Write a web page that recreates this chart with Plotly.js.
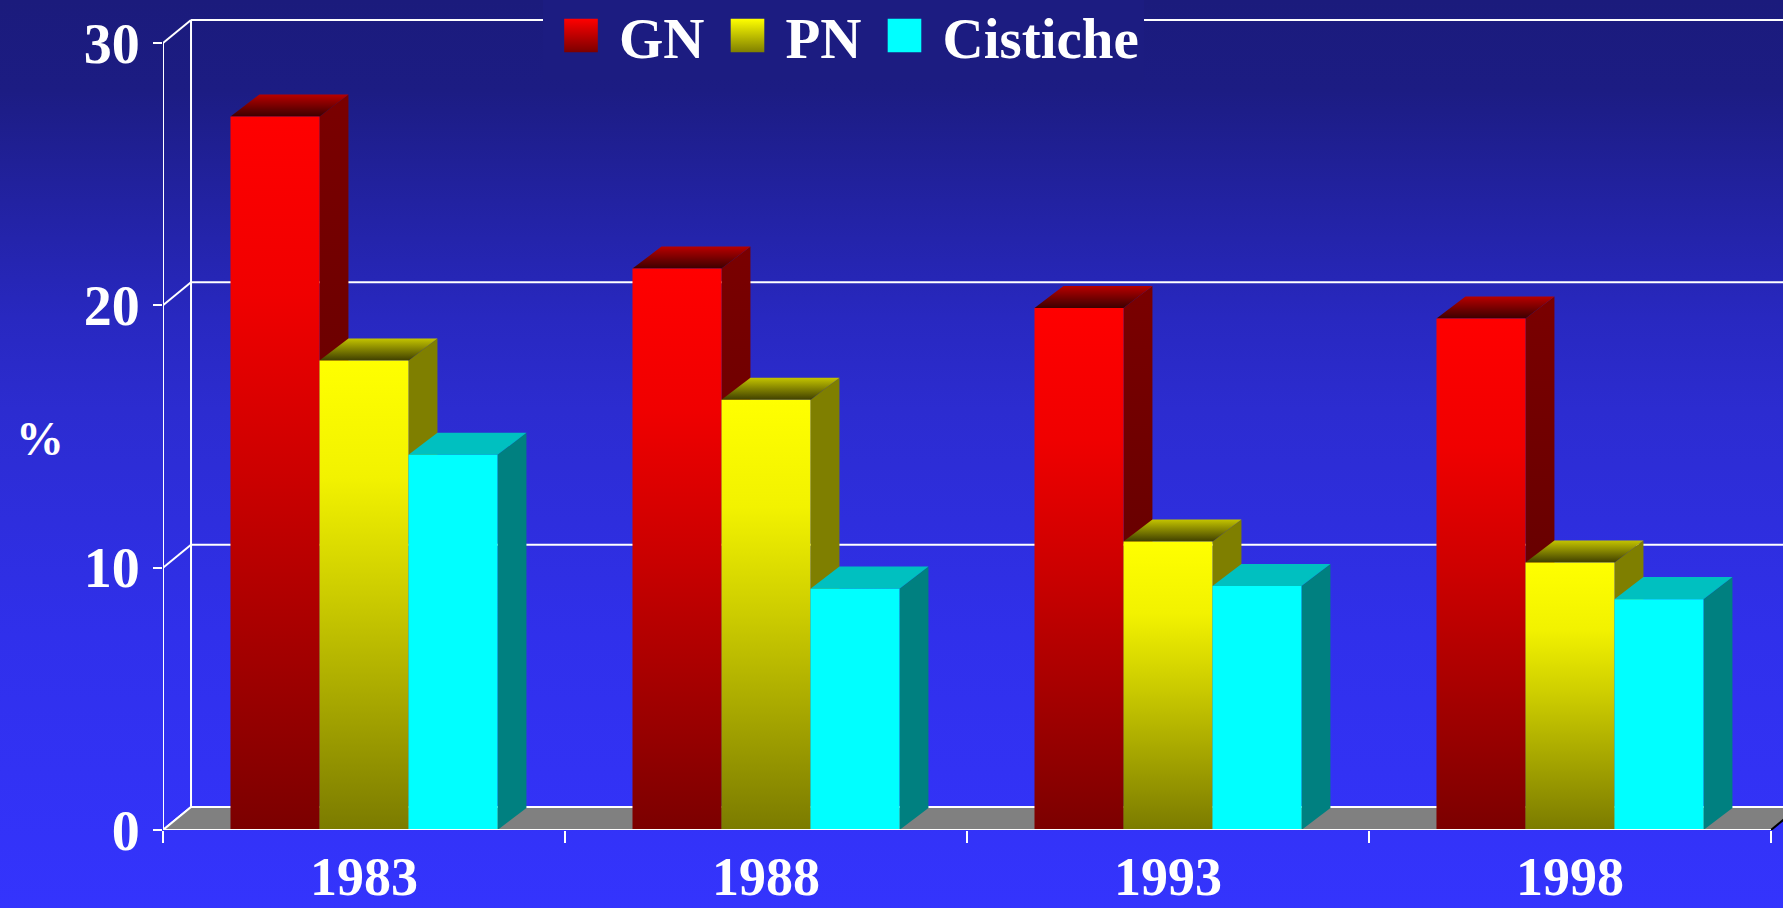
<!DOCTYPE html>
<html><head><meta charset="utf-8">
<script src="https://cdn.plot.ly/plotly-3.0.1.min.js"></script>
<style>
html,body{margin:0;padding:0;width:1783px;height:908px;overflow:hidden;
background:linear-gradient(to bottom,#1b1b7c 0%,#1c1c83 10%,#21219c 20%,#2828c0 35%,#2c2cd0 45%,#3030eb 70%,#3434fd 100%);}
#chart{width:1783px;height:908px;}
</style></head><body><div id="chart"></div>
<script>
// ---- data ----
const years = ['1983', '1988', '1993', '1998'];
const seriesNames = ['GN', 'PN', 'Cistiche'];
const gn = [27.2, 21.4, 19.9, 19.5];
const pn = [17.9, 16.4, 11.0, 10.2];
const cistiche = [14.3, 9.2, 9.3, 8.8];
const yTickVals = [0, 10, 20, 30];
const yTitle = '%';

// ---- style ----
const seriesValues = [gn, pn, cistiche];
const styles = [
  { front: [[0,'#7b0000'],[0.5,'#cc0000'],[0.75,'#f00000'],[1,'#ff0000']],
    side: [[0,'#560000'],[1,'#7a0000']],
    top: [[0,'#3c0000'],[1,'#b80000']],
    legTop: '#ff0000', legBottom: '#7b0000' },
  { front: [[0,'#7b7b00'],[0.5,'#cccc00'],[0.75,'#f2f200'],[1,'#ffff00']],
    side: '#7f7f00',
    top: [[0,'#404000'],[1,'#c4c400']],
    legTop: '#ffff00', legBottom: '#7f7f00' },
  { front: '#00ffff', side: '#008080', top: '#00c0c0',
    legTop: '#00ffff', legBottom: '#00ffff' }
];
const BAR_W = 0.2214, BAR_DX = 0.072, BAR_DY = 0.84;
const WALL_DX = 0.0697, WALL_DY = 0.877;
const X_MIN = -0.5, X_MAX = years.length - 0.5, X_RANGE_MAX = X_MAX + 0.0299;
const Y_MAX = 31.64;
const yTop = yTickVals[yTickVals.length - 1];
const FONT = {family: 'Liberation Serif, Times New Roman, serif', color: '#ffffff', weight: 'bold'};

function face(xs, ys, fill) {
  const t = {type: 'scatter', mode: 'lines', x: xs.concat([xs[0]]), y: ys.concat([ys[0]]),
    fill: 'toself', line: {width: 0, color: 'rgba(0,0,0,0)'}, hoverinfo: 'skip', showlegend: false};
  if (Array.isArray(fill)) t.fillgradient = {type: 'vertical', colorscale: fill};
  else t.fillcolor = fill;
  return t;
}
function lines(segs, color, width) {
  const x = [], y = [];
  segs.forEach(s => { x.push(s[0], s[2], null); y.push(s[1], s[3], null); });
  return {type: 'scatter', mode: 'lines', x, y, line: {color, width}, hoverinfo: 'skip', showlegend: false};
}

const traces = [];
// back wall
const backSegs = [[X_MIN + WALL_DX, WALL_DY, X_MIN + WALL_DX, yTop + WALL_DY]];
yTickVals.forEach(v => {
  if (v > 0) backSegs.push([X_MIN + WALL_DX, v + WALL_DY, X_RANGE_MAX, v + WALL_DY]);
  backSegs.push([X_MIN, v, X_MIN + WALL_DX, v + WALL_DY]);
});
traces.push(lines(backSegs, '#ffffff', 2));
// floor
traces.push(face([X_MIN, X_MAX, X_MAX + WALL_DX, X_MIN + WALL_DX], [0, 0, WALL_DY, WALL_DY], '#808080'));
traces.push(lines([[X_MIN + WALL_DX, WALL_DY, X_MAX + WALL_DX, WALL_DY], [X_MIN, 0, X_MIN + WALL_DX, WALL_DY]], '#ffffff', 2));
traces.push(lines([[X_MAX, 0, X_MAX + WALL_DX, WALL_DY]], '#000000', 2));

// bars
years.forEach((yr, i) => {
  seriesValues.forEach((vals, s) => {
    const v = vals[i], st = styles[s];
    const x0 = i + (s - 1.5) * BAR_W, x1 = x0 + BAR_W;
    traces.push(face([x1, x1 + BAR_DX, x1 + BAR_DX, x1], [0, BAR_DY, v + BAR_DY, v], st.side));
    traces.push(face([x0, x1, x1 + BAR_DX, x0 + BAR_DX], [v, v, v + BAR_DY, v + BAR_DY], st.top));
    traces.push(face([x0, x1, x1, x0], [0, 0, v, v], st.front));
  });
});

// front axes
traces.push(lines([[X_MIN, 0, X_MAX, 0], [X_MIN, 0, X_MIN, yTop]], '#ffffff', 2));

// legend entries
seriesNames.forEach((name, s) => {
  traces.push({type: 'scatter', mode: 'markers', x: [null], y: [null], name,
    marker: {symbol: 'square', size: 16, color: styles[s].legTop,
      gradient: {type: 'vertical', color: styles[s].legBottom}, line: {width: 0}},
    hoverinfo: 'skip', showlegend: true});
});

const boundaries = years.map((y, i) => i - 0.5).concat([X_MAX]);

const layout = {
  width: 1783, height: 908,
  margin: {l: 163, r: 0, t: 0, b: 78, pad: 0, autoexpand: false},
  paper_bgcolor: 'rgba(0,0,0,0)', plot_bgcolor: 'rgba(0,0,0,0)',
  showlegend: true,
  legend: {orientation: 'h', x: (543 - 163) / 1620, xanchor: 'left', y: 1 + 8 / 830, yanchor: 'top',
    bgcolor: '#1c1c81', borderwidth: 0, itemwidth: 66, traceorder: 'normal',
    font: Object.assign({size: 57}, FONT)},
  xaxis: {range: [X_MIN, X_RANGE_MAX], tickmode: 'array', tickvals: years.map((y, i) => i), ticktext: years,
    ticks: '', showgrid: false, zeroline: false, showline: false, automargin: false, fixedrange: true,
    tickfont: Object.assign({size: 54}, FONT), ticklabelstandoff: 10,
    minor: {tickmode: 'array', tickvals: boundaries, ticks: 'outside', ticklen: 12, tickwidth: 2, tickcolor: '#ffffff', showgrid: false}},
  yaxis: {range: [0, Y_MAX], tickmode: 'array', tickvals: yTickVals, ticks: 'outside', ticklen: 9, tickwidth: 2,
    tickcolor: '#ffffff', showgrid: false, zeroline: false, showline: false, automargin: false, fixedrange: true,
    tickfont: Object.assign({size: 56}, FONT), ticklabelstandoff: 2},
  annotations: [{text: yTitle, xref: 'paper', yref: 'paper', x: (40 - 163) / 1620, y: (830 - 438) / 830,
    xanchor: 'center', yanchor: 'middle', showarrow: false, font: Object.assign({size: 48}, FONT)}]
};

Plotly.newPlot('chart', traces, layout, {staticPlot: true, displayModeBar: false}).then(gd => {
  gd.querySelectorAll('.legend .legendpoints path.scatterpts').forEach(p => {
    const t = p.getAttribute('transform') || '';
    p.setAttribute('transform', t + ' scale(2.1)');
  });
});
</script></body></html>
